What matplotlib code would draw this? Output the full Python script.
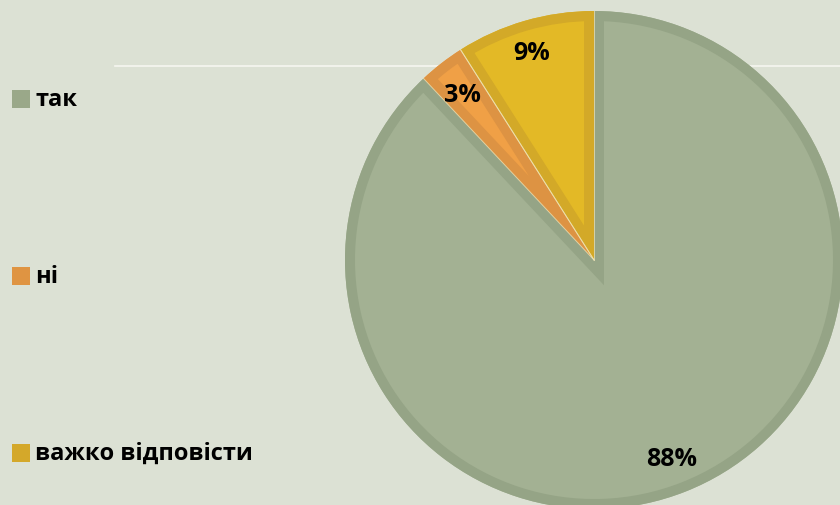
import matplotlib
matplotlib.use("Agg")
import matplotlib.pyplot as plt
from matplotlib.patches import Rectangle, PathPatch
import numpy as np

plt.rcParams['font.family'] = ['Open Sans', 'DejaVu Sans']

categories = ["так", "ні", "важко відповісти"]
values = [88, 3, 9]
fill_colors = ["#a3b193", "#f0a046", "#e3b926"]
edge_colors = ["#95a486", "#dd9343", "#d3a928"]
legend_colors = ["#9aa889", "#df9442", "#d4a82a"]
bg = "#dce1d4"

W, H = 840, 506
fig = plt.figure(figsize=(W / 100, H / 100), dpi=100, facecolor=bg)
ax = fig.add_axes([0, 0, 1, 1])
ax.set_facecolor(bg)

# decorative white line behind the pie
ax.plot([115, 840], [H - 67, H - 67], color="#f6f6f0", lw=1.2, zorder=0.5)

cx, cy, r = 594, H - 261, 249
band = 10  # px
wedges, _ = ax.pie(values, colors=fill_colors, startangle=90, counterclock=False,
                   center=(cx, cy), radius=r)
for w, ec in zip(wedges, edge_colors):
    w.set_zorder(1)
    w.set_edgecolor("none")
    path = w.get_transform().transform_path(w.get_path())
    # stroke of the wedge outline, clipped to the wedge interior -> inner bevel band
    stroke = PathPatch(w.get_path(), transform=w.get_transform(), facecolor="none",
                       edgecolor=ec, lw=2 * band * 0.72, joinstyle='miter', zorder=1.5)
    ax.add_patch(stroke)
    stroke.set_clip_path(w.get_path(), w.get_transform())

# thin light separators along slice boundaries
for w in wedges[1:]:
    for th in (w.theta1, w.theta2):
        t = np.deg2rad(th)
        ax.plot([cx, cx + r * np.cos(t)], [cy, cy + r * np.sin(t)],
                color="#efe6b8", lw=0.7, alpha=0.7, zorder=2)

# percentage labels
label_pos = [(672, 460), (462, 95), (532, 53)]
for v, (x, y) in zip(values, label_pos):
    ax.text(x, H - y, f"{v}%", ha="center", va="center", fontsize=18,
            fontweight="bold", color="black", zorder=3)

# legend
leg_y = [100, 277, 454]
for cat, col, y in zip(categories, legend_colors, leg_y):
    ax.add_patch(Rectangle((12, H - y - 9), 18, 18, facecolor=col, edgecolor="none", zorder=3))
    ax.text(35, H - y, cat, ha="left", va="center", fontsize=17, fontweight="bold",
            color="black", zorder=3)

ax.set_xlim(0, W)
ax.set_ylim(0, H)
ax.set_aspect('auto')
ax.axis('off')
fig.savefig("out.png", dpi=100, facecolor=bg)
